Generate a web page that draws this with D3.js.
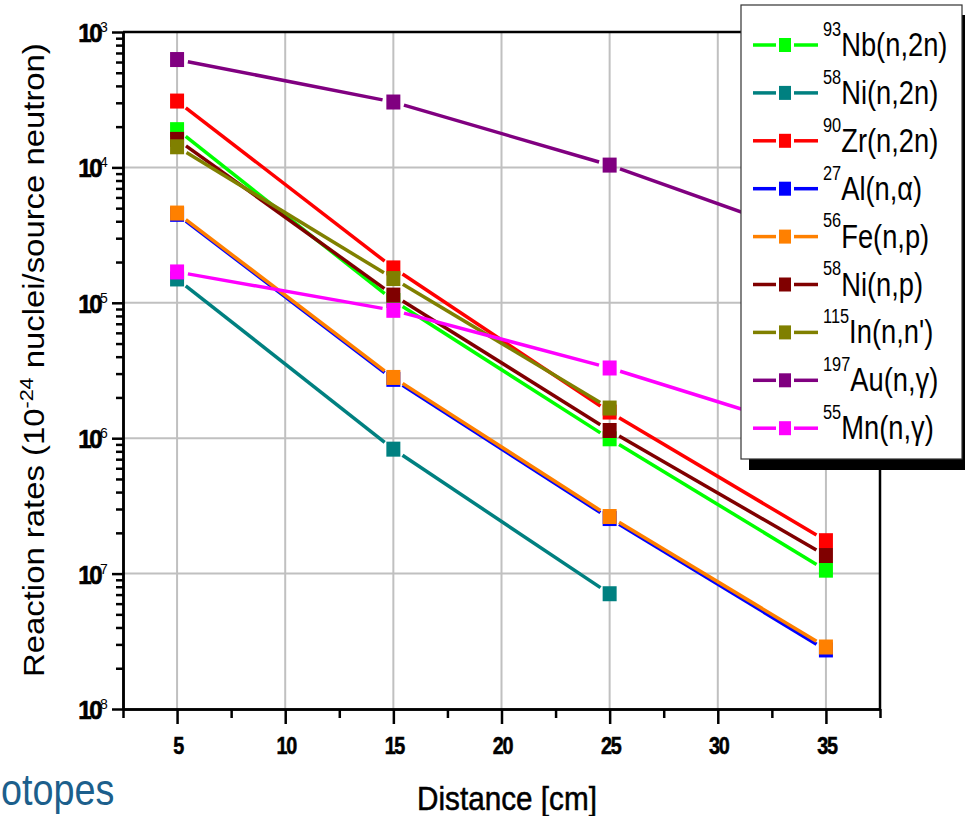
<!DOCTYPE html>
<html><head><meta charset="utf-8">
<script src="https://cdn.jsdelivr.net/npm/d3@7"></script>
<style>
html,body{margin:0;padding:0;background:#fff;}
svg{display:block;}
text{font-family:"Liberation Sans",Arial,sans-serif;}
</style></head>
<body>
<svg id="chart" width="965" height="816"></svg>
<script>
// ---------- data ----------
const distances = [5, 15, 25, 35];
const xTickValues = [5, 10, 15, 20, 25, 30, 35];
const xMinorTicks = [2.5, 7.5, 12.5, 17.5, 22.5, 27.5, 32.5, 37.5];
const yDecades = [1e-3, 1e-4, 1e-5, 1e-6, 1e-7, 1e-8];
const yTickExponents = ["3", "4", "5", "6", "7", "8"];

const nb93 = [1.9e-4, 1.04e-5, 9.9e-7, 1.06e-7];
const ni58n2n = [1.5e-5, 8.3e-7, 7.1e-8, null];
const zr90 = [3.09e-4, 1.81e-5, 1.56e-6, 1.75e-7];
const al27 = [4.5e-5, 2.72e-6, 2.55e-7, 2.73e-8];
const fe56 = [4.6e-5, 2.81e-6, 2.64e-7, 2.87e-8];
const ni58np = [1.61e-4, 1.14e-5, 1.14e-6, 1.36e-7];
const in115 = [1.42e-4, 1.51e-5, 1.67e-6, null];
const au197 = [6.26e-4, 3.04e-4, 1.04e-4, 2.8e-5];
const mn55 = [1.69e-5, 8.8e-6, 3.3e-6, 1.05e-6];

const seriesSup = ["93", "58", "90", "27", "56", "58", "115", "197", "55"];
const seriesLabel = ["Nb(n,2n)", "Ni(n,2n)", "Zr(n,2n)", "Al(n,\u03B1)", "Fe(n,p)", "Ni(n,p)", "In(n,n')", "Au(n,\u03B3)", "Mn(n,\u03B3)"];
const seriesValues = [nb93, ni58n2n, zr90, al27, fe56, ni58np, in115, au197, mn55];
const seriesColors = ["#00ff00", "#008080", "#ff0000", "#0000ff", "#ff8000", "#800000", "#808000", "#800080", "#ff00ff"];

// ---------- layout ----------
const svg = d3.select("#chart");
const L = 123, R = 880, T = 32, B = 709;
const x = d3.scaleLinear().domain([2.5, 37.5]).range([L, R]);
const y = d3.scaleLog().domain([1e-8, 1e-3]).range([B, T]);

// grid
const grid = svg.append("g");
grid.selectAll("line.vg").data(xTickValues).join("line")
  .attr("x1", d => x(d)).attr("x2", d => x(d)).attr("y1", T).attr("y2", B)
  .attr("stroke", "#c0c0c0").attr("stroke-width", 2);
grid.selectAll("line.hg").data(yDecades.slice(1, -1)).join("line")
  .attr("x1", L).attr("x2", R).attr("y1", d => y(d)).attr("y2", d => y(d))
  .attr("stroke", "#c0c0c0").attr("stroke-width", 2);

// series
const markW = 14, markH = 15, gap = 11;
seriesValues.forEach((vals, si) => {
  const g = svg.append("g");
  const pts = distances.map((d, i) => vals[i] == null ? null : [x(d), y(vals[i])]).filter(p => p);
  for (let i = 0; i < pts.length - 1; i++) {
    const [x1, y1] = pts[i], [x2, y2] = pts[i + 1];
    const len = Math.hypot(x2 - x1, y2 - y1);
    const ux = (x2 - x1) / len, uy = (y2 - y1) / len;
    g.append("line")
      .attr("x1", x1 + ux * gap).attr("y1", y1 + uy * gap)
      .attr("x2", x2 - ux * gap).attr("y2", y2 - uy * gap)
      .attr("stroke", seriesColors[si]).attr("stroke-width", 3.5);
  }
  g.selectAll("rect").data(pts).join("rect")
    .attr("x", p => p[0] - markW / 2).attr("y", p => p[1] - markH / 2)
    .attr("width", markW).attr("height", markH)
    .attr("fill", seriesColors[si]);
});

// frame
svg.append("line").attr("x1", L).attr("x2", R).attr("y1", T).attr("y2", T).attr("stroke", "#000").attr("stroke-width", 2.5);
svg.append("line").attr("x1", R).attr("x2", R).attr("y1", T).attr("y2", B).attr("stroke", "#000").attr("stroke-width", 2.5);

// axes
const xAxisMajor = d3.axisBottom(x).tickValues(xTickValues).tickSize(15).tickSizeOuter(0).tickFormat("");
const xAxisMinor = d3.axisBottom(x).tickValues(xMinorTicks).tickSize(9).tickSizeOuter(0).tickFormat("");
const gx1 = svg.append("g").attr("transform", `translate(0,${B})`).call(xAxisMinor);
const gx2 = svg.append("g").attr("transform", `translate(0,${B})`).call(xAxisMajor);
[gx1, gx2].forEach(g => { g.selectAll("line").attr("stroke-width", 2.5); g.select(".domain").attr("stroke-width", 2.5); });

const yMinor = [];
for (let e = -8; e < -3; e++) for (let m = 2; m <= 9; m++) yMinor.push(m * Math.pow(10, e));
const yAxisMajor = d3.axisLeft(y).tickValues(yDecades).tickSize(11).tickSizeOuter(0).tickFormat("");
const yAxisMinor = d3.axisLeft(y).tickValues(yMinor).tickSize(7).tickSizeOuter(0).tickFormat("");
const gy1 = svg.append("g").attr("transform", `translate(${L},0)`).call(yAxisMinor);
const gy2 = svg.append("g").attr("transform", `translate(${L},0)`).call(yAxisMajor);
[gy1, gy2].forEach(g => { g.selectAll("line").attr("stroke-width", 2.5); g.select(".domain").attr("stroke-width", 2.5); });

// x tick labels
svg.append("g").selectAll("text").data(xTickValues).join("text")
  .attr("transform", d => `translate(${x(d) + 1},754) scale(0.9,1.08)`)
  .attr("text-anchor", "middle").attr("font-weight", "bold").attr("font-size", 22)
  .attr("letter-spacing", -1.5).attr("stroke", "#000").attr("stroke-width", 0.5)
  .text(d => d);

// y tick labels
const yl = svg.append("g").selectAll("g").data(yDecades).join("g")
  .attr("transform", d => `translate(100,${y(d)})`);
yl.append("text").attr("x", 0).attr("y", 9).attr("text-anchor", "end")
  .attr("transform", "scale(1,1.1)")
  .attr("font-weight", "bold").attr("font-size", 24).attr("letter-spacing", -2.5)
  .attr("stroke", "#000").attr("stroke-width", 0.6).text("10");
yl.append("text").attr("x", 0).attr("y", 0).attr("font-size", 14)
  .text((d, i) => yTickExponents[i]);

// axis titles
const xt = svg.append("text").attr("font-size", 32).attr("x", 0).attr("y", 0)
  .attr("stroke", "#000").attr("stroke-width", 0.5).text("Distance [cm]");
{
  const w = xt.node().getComputedTextLength();
  xt.attr("transform", `translate(417,810) scale(${180 / w},1.05)`);
}
const yt = svg.append("text").attr("font-size", 29);
yt.append("tspan").text("Reaction rates (10");
yt.append("tspan").attr("font-size", 19).attr("dy", -11).text("-24");
yt.append("tspan").attr("dy", 11).text(" nuclei/source neutron)");
{
  const w = yt.node().getComputedTextLength();
  yt.attr("transform", `translate(44,677) rotate(-90) scale(${634 / w},1)`);
}

// legend
const lg = svg.append("g");
lg.append("rect").attr("x", 749).attr("y", 15).attr("width", 230).attr("height", 455).attr("fill", "#000");
lg.append("rect").attr("x", 741).attr("y", 5).attr("width", 221).attr("height", 454)
  .attr("fill", "#fff").attr("stroke", "#333").attr("stroke-width", 1.2);
seriesLabel.forEach((lab, i) => {
  const cy = 45 + i * 47.9;
  const c = seriesColors[i];
  lg.append("line").attr("x1", 753).attr("x2", 776).attr("y1", cy).attr("y2", cy).attr("stroke", c).attr("stroke-width", 3.5);
  lg.append("line").attr("x1", 794).attr("x2", 818).attr("y1", cy).attr("y2", cy).attr("stroke", c).attr("stroke-width", 3.5);
  lg.append("rect").attr("x", 779).attr("y", cy - 7).attr("width", 12).attr("height", 14).attr("fill", c);
  const t = lg.append("text").attr("transform", `translate(823,${cy + 11}) scale(0.91,1.12)`).attr("font-size", 30);
  t.append("tspan").attr("font-size", 18).attr("dy", -18).text(seriesSup[i]);
  t.append("tspan").attr("dy", 18).text(lab);
});

// leftover slide text
svg.append("text").attr("transform", "translate(1,805) scale(0.9,1.05)")
  .attr("font-size", 42).attr("fill", "#1c5f8c").text("otopes");
</script>
</body></html>
